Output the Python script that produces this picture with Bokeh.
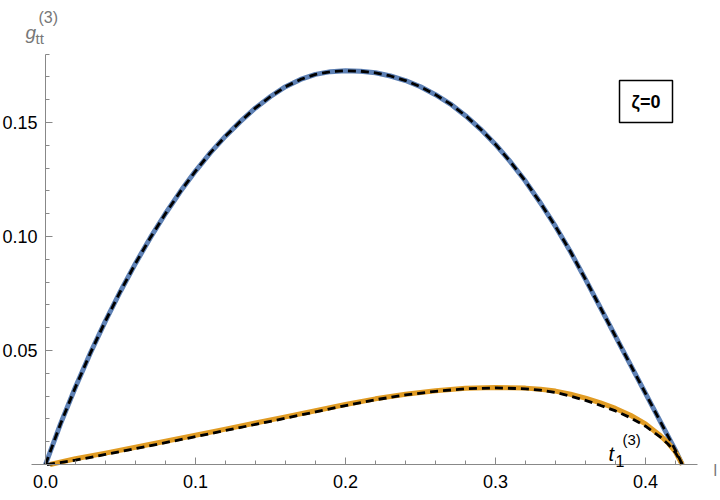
from bokeh.plotting import figure
from bokeh.models import Range1d, FixedTicker, Label, NumeralTickFormatter
from bokeh.embed import file_html
from bokeh.resources import INLINE

# ---- data ----
blue_x = [0.0, 0.01, 0.02, 0.03, 0.04, 0.05, 0.06, 0.07, 0.08, 0.09, 0.10, 0.11, 0.12, 0.13,
          0.14, 0.15, 0.16, 0.17, 0.18, 0.19, 0.20, 0.21, 0.22, 0.23, 0.24, 0.25, 0.26, 0.27,
          0.28, 0.29, 0.30, 0.31, 0.32, 0.33, 0.34, 0.35, 0.36, 0.37, 0.38, 0.39, 0.40, 0.41,
          0.42, 0.4245]
blue_y = [0.0, 0.0178, 0.0340, 0.0490, 0.0630, 0.0760, 0.0882, 0.0996, 0.1101, 0.1198, 0.1287,
          0.1368, 0.1440, 0.1505, 0.1564, 0.1614, 0.1657, 0.1689, 0.1711, 0.1723, 0.1727,
          0.1725, 0.1718, 0.1704, 0.1684, 0.1657, 0.1622, 0.1581, 0.1530, 0.1471, 0.1404,
          0.1327, 0.1242, 0.1147, 0.1044, 0.0933, 0.0812, 0.0687, 0.0562, 0.0437, 0.0312,
          0.0187, 0.0062, 0.0]

orange_x = [0.003, 0.02, 0.04, 0.06, 0.08, 0.10, 0.12, 0.14, 0.16, 0.18, 0.20, 0.22, 0.24,
            0.26, 0.28, 0.30, 0.32, 0.33, 0.34, 0.35, 0.36, 0.37, 0.38, 0.39, 0.40, 0.41,
            0.415, 0.42, 0.4245]
orange_y = [0.0, 0.0025, 0.0050, 0.0076, 0.0102, 0.0128, 0.0155, 0.0182, 0.0209, 0.0236, 0.0263,
            0.0288, 0.0308, 0.0323, 0.0334, 0.0338, 0.0335, 0.0330, 0.0322, 0.0308, 0.0291,
            0.0270, 0.0246, 0.0216, 0.0178, 0.0126, 0.0095, 0.0055, 0.0]

# dashed fit curves (black), drawn on top
fit_blue_x = blue_x
fit_blue_y = blue_y
fit_orange_x = [0.001, 0.02, 0.04, 0.06, 0.08, 0.10, 0.12, 0.14, 0.16, 0.18, 0.20, 0.22, 0.24,
                0.26, 0.28, 0.30, 0.32, 0.33, 0.34, 0.35, 0.36, 0.37, 0.38, 0.39, 0.40, 0.41,
                0.415, 0.42, 0.4245]
fit_orange_y = [0.0, 0.0019, 0.0044, 0.0070, 0.0096, 0.0122, 0.0149, 0.0176, 0.0203, 0.0231,
                0.0258, 0.0284, 0.0305, 0.0321, 0.0332, 0.0336, 0.0332, 0.0326, 0.0316, 0.0300,
                0.0281, 0.0259, 0.0235, 0.0205, 0.0168, 0.0120, 0.0090, 0.0052, 0.0]

x_major = [0.0, 0.1, 0.2, 0.3, 0.4]
x_minor = [round(0.02 * i, 2) for i in range(0, 22)]
y_major = [0.05, 0.10, 0.15]
y_minor = [round(0.01 * i, 2) for i in range(0, 19)]

BLUE = "#5E81B5"
ORANGE = "#E19C24"
AXIS = "#888888"
LABEL_GRAY = "#777777"
FONT = "Liberation Sans"

# plot frame covers the whole canvas; axes are pinned at the origin
p = figure(width=720, height=500, output_backend="svg", toolbar_location=None,
           x_range=Range1d(-0.03, 0.45), y_range=Range1d(-0.015789, 0.203509),
           min_border=0, min_border_left=0, min_border_right=0,
           min_border_top=0, min_border_bottom=0, outline_line_color=None)
p.grid.visible = False
p.background_fill_color = "white"

for ax in (p.xaxis[0], p.yaxis[0]):
    ax.fixed_location = 0
    ax.axis_line_color = AXIS
    ax.axis_line_width = 1
    ax.major_tick_line_color = AXIS
    ax.minor_tick_line_color = AXIS
    ax.major_tick_in = 7
    ax.major_tick_out = 0
    ax.minor_tick_in = 4
    ax.minor_tick_out = 0
    ax.major_label_text_font = FONT
    ax.major_label_text_font_size = "18px"
    ax.major_label_text_color = "black"

p.xaxis[0].bounds = (-0.0093, 0.4347)
p.yaxis[0].bounds = (0.0, 0.18)
p.xaxis[0].major_label_standoff = 10
p.yaxis[0].major_label_standoff = 8
p.xaxis[0].ticker = FixedTicker(ticks=x_major, minor_ticks=x_minor)
p.yaxis[0].ticker = FixedTicker(ticks=y_major, minor_ticks=y_minor)
p.xaxis[0].formatter = NumeralTickFormatter(format="0.0")
p.yaxis[0].formatter = NumeralTickFormatter(format="0.00")

# curves
p.line(blue_x, blue_y, line_color=BLUE, line_width=5, line_join="round")
p.line(orange_x, orange_y, line_color=ORANGE, line_width=5, line_join="round")
p.line(fit_blue_x, fit_blue_y, line_color="black", line_width=2.8, line_dash="8 5",
       line_join="round")
p.line(fit_orange_x, fit_orange_y, line_color="black", line_width=2.8, line_dash="8 5",
       line_join="round")

# zeta box
p.quad(left=0.38267, right=0.418, bottom=0.1500, top=0.16842,
       fill_color="white", line_color="black", line_width=1.5)
p.add_layout(Label(x=0.40033, y=0.15921, text="ζ=0", text_font=FONT, text_font_size="18px",
                   text_font_style="bold", text_align="center", text_baseline="middle",
                   text_color="black"))

# y-axis title g_tt^(3)
p.add_layout(Label(x=-0.01333, y=0.18947, text="g", text_font=FONT, text_font_size="19px",
                   text_font_style="italic", text_color=LABEL_GRAY, text_baseline="alphabetic"))
p.add_layout(Label(x=-0.00667, y=0.18684, text="tt", text_font=FONT, text_font_size="15px",
                   text_color=LABEL_GRAY, text_baseline="alphabetic"))
p.add_layout(Label(x=-0.00467, y=0.19605, text="(3)", text_font=FONT, text_font_size="16px",
                   text_color=LABEL_GRAY, text_baseline="alphabetic"))

# x-axis title l
p.add_layout(Label(x=0.44533, y=-0.00263, text="l", text_font=FONT, text_font_size="16px",
                   text_color=LABEL_GRAY, text_baseline="alphabetic"))

# t_1^(3) label
p.add_layout(Label(x=0.37533, y=0.004825, text="t", text_font=FONT, text_font_size="20px",
                   text_font_style="italic", text_color="black", text_baseline="alphabetic"))
p.add_layout(Label(x=0.38, y=0.00175, text="1", text_font=FONT, text_font_size="16px",
                   text_color="black", text_baseline="alphabetic"))
p.add_layout(Label(x=0.38467, y=0.010965, text="(3)", text_font=FONT, text_font_size="15px",
                   text_color="black", text_baseline="alphabetic"))

open("out.html", "w").write(file_html(p, INLINE))
